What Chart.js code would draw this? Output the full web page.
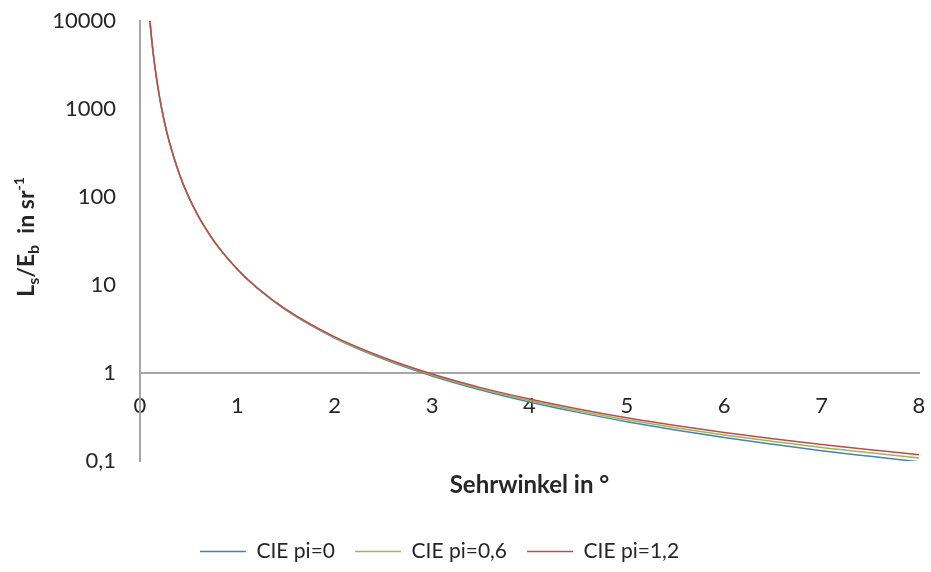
<!DOCTYPE html>
<html>
<head>
<meta charset="utf-8">
<script src="https://cdn.jsdelivr.net/npm/chart.js@4"></script>
<style>
  html, body { margin: 0; padding: 0; background: #fff; }
  #wrap { width: 931px; height: 572px; }
</style>
</head>
<body>
<div id="wrap"><canvas id="chartBlendung"></canvas></div>
<script>
// Sehrwinkel in Grad
const sehrwinkel = [0.1, 0.12, 0.15, 0.2, 0.25, 0.3, 0.4, 0.5, 0.6, 0.7, 0.8, 1.0, 1.2, 1.5, 2, 2.5, 3, 3.5, 4, 4.5, 5, 5.5, 6, 6.5, 7, 7.5, 8];
const ciePi0 = [10500, 6134, 3185, 1375, 720, 426, 187.5, 100, 60.2, 39.4, 27.3, 15, 9.26, 5.19, 2.5, 1.44, 0.926, 0.641, 0.469, 0.357, 0.28, 0.225, 0.185, 0.155, 0.131, 0.113, 0.098];
const ciePi06 = [10501, 6135, 3185, 1375, 720, 426, 187.7, 100.1, 60.3, 39.5, 27.4, 15.07, 9.32, 5.24, 2.53, 1.47, 0.95, 0.662, 0.487, 0.373, 0.295, 0.239, 0.198, 0.167, 0.142, 0.124, 0.108];
const ciePi12 = [10501, 6136, 3186, 1376, 721, 426.5, 187.9, 100.3, 60.4, 39.6, 27.5, 15.13, 9.37, 5.28, 2.57, 1.5, 0.973, 0.682, 0.506, 0.39, 0.31, 0.253, 0.211, 0.179, 0.154, 0.134, 0.118];
const serienNamen = ['CIE pi=0', 'CIE pi=0,6', 'CIE pi=1,2'];
const xTicks = [0, 1, 2, 3, 4, 5, 6, 7, 8];
const yTicks = [0.1, 1, 10, 100, 1000, 10000];

const FONT = 'Lato, "Liberation Sans", sans-serif';
const TEXT = '#262626';
const AXIS = '#a6a6a6';

const toPoints = arr => sehrwinkel.map((x, i) => ({ x, y: arr[i] }));

const serie = (label, data, color, order) => ({
  label,
  data: toPoints(data),
  borderColor: color,
  backgroundColor: color,
  borderWidth: 1.5,
  pointRadius: 0,
  cubicInterpolationMode: 'monotone',
  order
});

// Achsentitel mit Tief-/Hochstellung
const achsenTitel = {
  id: 'achsenTitel',
  afterLayout(chart) {
    // Legende etwas nach links, wie im Original
    if (chart.legend) {
      chart.legend.left -= 20;
      chart.legend.right -= 20;
    }
  },
  afterDraw(chart) {
    const { ctx, chartArea } = chart;
    ctx.save();
    ctx.fillStyle = TEXT;
    ctx.textBaseline = 'alphabetic';
    ctx.font = 'bold 24px ' + FONT;
    ctx.textAlign = 'center';
    ctx.fillText('Sehrwinkel in °', (chartArea.left + chartArea.right) / 2, chartArea.bottom + 32);

    const teile = [
      { t: 'L', size: 23, dy: 0 },
      { t: 's', size: 16, dy: 5 },
      { t: '/E', size: 23, dy: 0 },
      { t: 'b', size: 16, dy: 5 },
      { t: '  in sr', size: 23, dy: 0 },
      { t: '-1', size: 14, dy: -10 }
    ];
    ctx.textAlign = 'left';
    let gesamt = 0;
    teile.forEach(p => { ctx.font = 'bold ' + p.size + 'px ' + FONT; p.w = ctx.measureText(p.t).width; gesamt += p.w; });
    ctx.translate(34, (chartArea.top + chartArea.bottom) / 2 - 4);
    ctx.rotate(-Math.PI / 2);
    let x = -gesamt / 2;
    teile.forEach(p => {
      ctx.font = 'bold ' + p.size + 'px ' + FONT;
      ctx.fillText(p.t, x, p.dy);
      x += p.w;
    });
    ctx.restore();
  }
};

new Chart(document.getElementById('chartBlendung'), {
  type: 'line',
  data: {
    datasets: [
      serie(serienNamen[0], ciePi0, '#4a7ebb', 3),
      serie(serienNamen[1], ciePi06, '#98b954', 2),
      serie(serienNamen[2], ciePi12, '#be4b48', 1)
    ]
  },
  options: {
    responsive: true,
    maintainAspectRatio: false,
    animation: false,
    layout: { padding: { top: 21, right: 12, bottom: 0, left: 0 } },
    plugins: {
      tooltip: { enabled: false },
      legend: {
        position: 'bottom',
        title: { display: true, text: ' ', font: { size: 20, lineHeight: 1.2 }, padding: { top: 36, bottom: 0 } },
        labels: {
          usePointStyle: true,
          pointStyle: 'line',
          pointStyleWidth: 46,
          boxHeight: 20,
          padding: 20,
          color: TEXT,
          font: { family: FONT, size: 21 },
          sort: (a, b) => a.datasetIndex - b.datasetIndex
        }
      }
    },
    scales: {
      x: {
        type: 'linear',
        min: 0,
        max: 8,
        position: { y: 1 },
        grid: { display: false, drawTicks: false },
        border: { display: true, color: AXIS, width: 2 },
        afterBuildTicks: axis => { axis.ticks = xTicks.map(v => ({ value: v })); },
        afterFit: axis => {
          axis.paddingLeft = 0;
          axis.paddingRight = 0;
        },
        ticks: { color: TEXT, padding: 20, font: { family: FONT, size: 22 }, maxRotation: 0 }
      },
      y: {
        type: 'logarithmic',
        min: 0.1,
        max: 10000,
        grid: { display: false, drawTicks: false },
        border: { display: true, color: AXIS, width: 2 },
        afterBuildTicks: axis => { axis.ticks = yTicks.map(v => ({ value: v })); },
        afterFit: axis => {
          axis.width = 140;
          axis.paddingTop = 0;
          axis.paddingBottom = 0;
        },
        ticks: {
          color: TEXT,
          padding: 24,
          font: { family: FONT, size: 22 },
          callback: v => String(v).replace('.', ',')
        }
      }
    }
  },
  plugins: [achsenTitel]
});
</script>
</body>
</html>
